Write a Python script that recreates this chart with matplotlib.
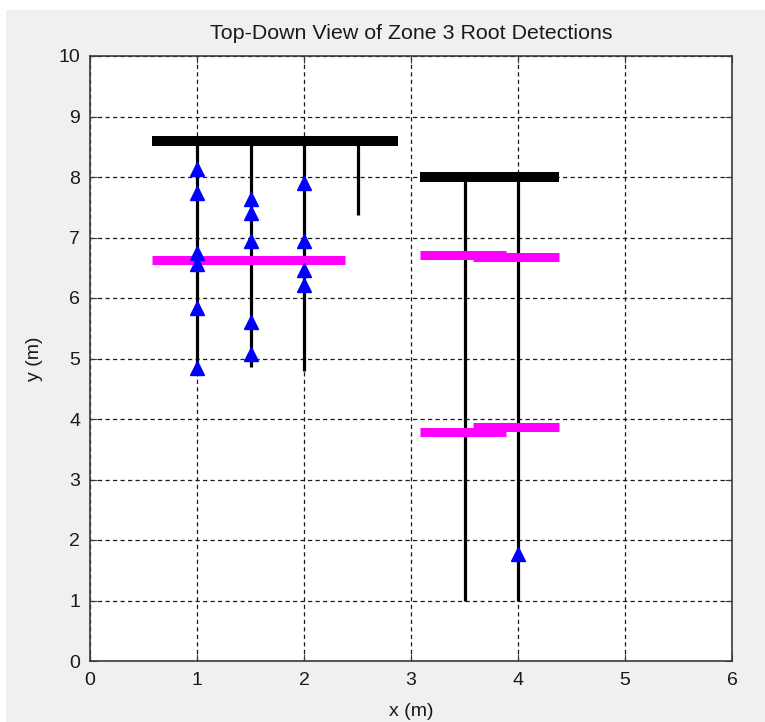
import matplotlib
matplotlib.use("Agg")
import matplotlib.pyplot as plt
from matplotlib.patches import Rectangle

# Trunk/branch geometry (metres)
bar_y = [8.6, 8.0]
bar_x0 = [0.58, 3.08]
bar_x1 = [2.88, 4.38]

# Vertical roots: x position, top (attached bar), bottom end
root_x = [1.0, 1.5, 2.0, 2.5, 3.5, 4.0]
root_top = [8.6, 8.6, 8.6, 8.6, 8.0, 8.0]
root_bottom = [4.8, 4.86, 4.8, 7.38, 1.0, 1.0]

# Scan transects (magenta)
scan_x0 = [0.58, 3.08, 3.58, 3.08, 3.58]
scan_x1 = [2.38, 3.89, 4.38, 3.89, 4.38]
scan_y = [6.63, 6.71, 6.67, 3.79, 3.86]

# Root detections
det_x = [1, 1, 1, 1, 1, 1,
         1.5, 1.5, 1.5, 1.5, 1.5,
         2, 2, 2, 2,
         4]
det_y = [8.14, 7.74, 6.74, 6.57, 5.83, 4.84,
         7.63, 7.41, 6.94, 5.61, 5.07,
         7.90, 6.94, 6.46, 6.21,
         1.77]

xticks = [0, 1, 2, 3, 4, 5, 6]
yticks = [0, 1, 2, 3, 4, 5, 6, 7, 8, 9, 10]

plt.rcParams['font.family'] = ['Liberation Sans', 'DejaVu Sans']

fig = plt.figure(figsize=(7.65, 7.22), dpi=100)
fig.patch.set_facecolor('#f0f0f0')
# white margins along the top and left edges of the window
fig.add_artist(Rectangle((0, 1 - 10 / 722), 1, 10 / 722, transform=fig.transFigure,
                         facecolor='white', edgecolor='none', zorder=-1))
fig.add_artist(Rectangle((0, 0), 6 / 765, 1, transform=fig.transFigure,
                         facecolor='white', edgecolor='none', zorder=-1))

ax = fig.add_axes([90 / 765, 1 - 661 / 722, (732 - 90) / 765, (661 - 56) / 722])
ax.set_facecolor('white')

for xv, yt, yb in zip(root_x, root_top, root_bottom):
    ax.plot([xv, xv], [yb, yt], color='black', lw=2.3, solid_capstyle='butt', zorder=3)

for y, x0, x1 in zip(bar_y, bar_x0, bar_x1):
    ax.plot([x0, x1], [y, y], color='black', lw=7.2, solid_capstyle='butt', zorder=4)

for y, x0, x1 in zip(scan_y, scan_x0, scan_x1):
    ax.plot([x0, x1], [y, y], color='#ff00ff', lw=6.5, solid_capstyle='butt', zorder=4)

ax.plot(det_x, det_y, linestyle='none', marker='^', color='#0000ff',
        markersize=9.5, markeredgecolor='#0000ff', zorder=5)

ax.set_xlim(0, 6)
ax.set_ylim(0, 10)
ax.set_xticks(xticks)
ax.set_yticks(yticks)
ax.grid(True, color='#1a1a1a', linestyle=(0, (3.4, 2.6)), linewidth=0.9, zorder=1)
ax.set_axisbelow(True)

for s in ax.spines.values():
    s.set_color('#3a3a3a')
    s.set_linewidth(1.2)
ax.tick_params(direction='in', length=5, width=0.8, color='#3a3a3a',
               top=True, right=True, labelsize=14, labelcolor='#1a1a1a')
ax.tick_params(axis='x', pad=8)
ax.tick_params(axis='y', pad=7)

ax.set_title('Top-Down View of Zone 3 Root Detections', fontsize=15.4, pad=12,
             color='#1a1a1a')
ax.set_xlabel('x (m)', fontsize=14, labelpad=10, color='#1a1a1a')
ax.set_ylabel('y (m)', fontsize=14, labelpad=11, color='#1a1a1a')

fig.savefig('out.png', dpi=100, facecolor=fig.get_facecolor())
